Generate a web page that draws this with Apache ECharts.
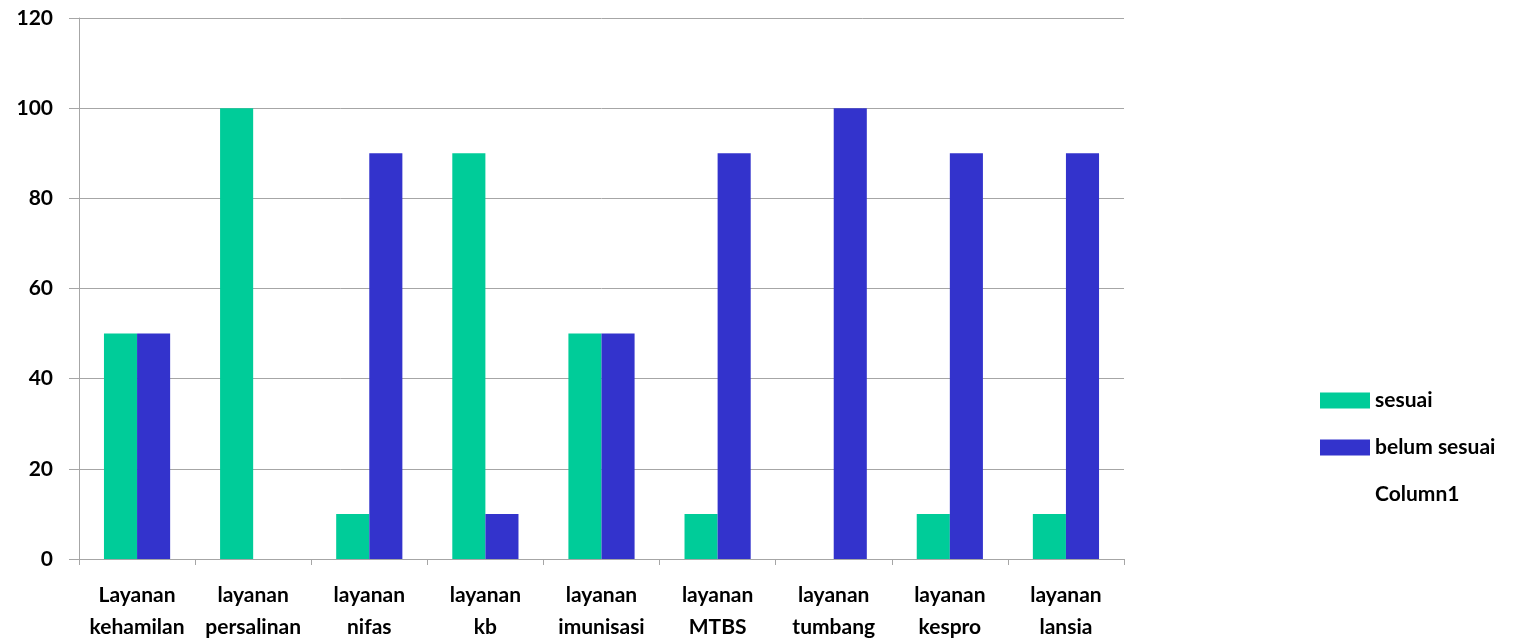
<!DOCTYPE html>
<html>
<head>
<meta charset="utf-8">
<script src="https://cdn.jsdelivr.net/npm/echarts@6/dist/echarts.min.js"></script>
<style>
  html, body { margin: 0; padding: 0; background: #fff; }
  #main { width: 1532px; height: 643px; }
</style>
</head>
<body>
<div id="main"></div>
<script>
var categories = [
    'Layanan\nkehamilan', 'layanan\npersalinan', 'layanan\nnifas', 'layanan\nkb',
    'layanan\nimunisasi', 'layanan\nMTBS', 'layanan\ntumbang', 'layanan\nkespro', 'layanan\nlansia'
];
var sesuai = [50, 100, 10, 90, 50, 10, 0, 10, 10];
var belumSesuai = [50, 0, 90, 10, 50, 90, 100, 90, 90];
var column1 = [];

var myChart = echarts.init(document.getElementById('main'));

var fontBold = {
    fontFamily: 'Lato',
    fontWeight: 'bold',
    fontSize: 21,
    color: '#000'
};

var option = {
    animation: false,
    color: ['#00cc99', '#3333cc', '#ffffff'],
    grid: {
        left: 79,
        right: 408,
        top: 18,
        bottom: 81
    },
    legend: {
        orient: 'vertical',
        left: 1315,
        top: 385,
        itemWidth: 50,
        itemHeight: 16,
        itemGap: 26,
        textStyle: {
            fontFamily: 'Lato',
            fontWeight: 'bold',
            fontSize: 21,
            color: '#000',
            lineHeight: 21
        },
        data: [
            { name: 'sesuai', icon: 'rect' },
            { name: 'belum sesuai', icon: 'rect' },
            { name: 'Column1', icon: 'none' }
        ]
    },
    xAxis: {
        type: 'category',
        data: categories,
        axisLine: { lineStyle: { color: '#a6a6a6', width: 1 } },
        axisTick: { show: true, length: 6, lineStyle: { color: '#a6a6a6' } },
        axisLabel: Object.assign({ interval: 0, margin: 20, lineHeight: 32 }, fontBold),
        splitLine: { show: false }
    },
    yAxis: {
        type: 'value',
        min: 0,
        max: 120,
        interval: 20,
        axisLine: { show: true, lineStyle: { color: '#a6a6a6', width: 1 } },
        axisTick: { show: true, length: 10, lineStyle: { color: '#a6a6a6' } },
        axisLabel: Object.assign({ margin: 26 }, fontBold),
        splitLine: { lineStyle: { color: '#a6a6a6', width: 1 } }
    },
    series: [
        {
            name: 'sesuai',
            type: 'bar',
            barGap: 0,
            barCategoryGap: '43%',
            data: sesuai
        },
        {
            name: 'belum sesuai',
            type: 'bar',
            data: belumSesuai
        },
        {
            name: 'Column1',
            type: 'line',
            data: column1,
            showSymbol: false,
            lineStyle: { opacity: 0 }
        }
    ]
};

myChart.setOption(option);
</script>
</body>
</html>
